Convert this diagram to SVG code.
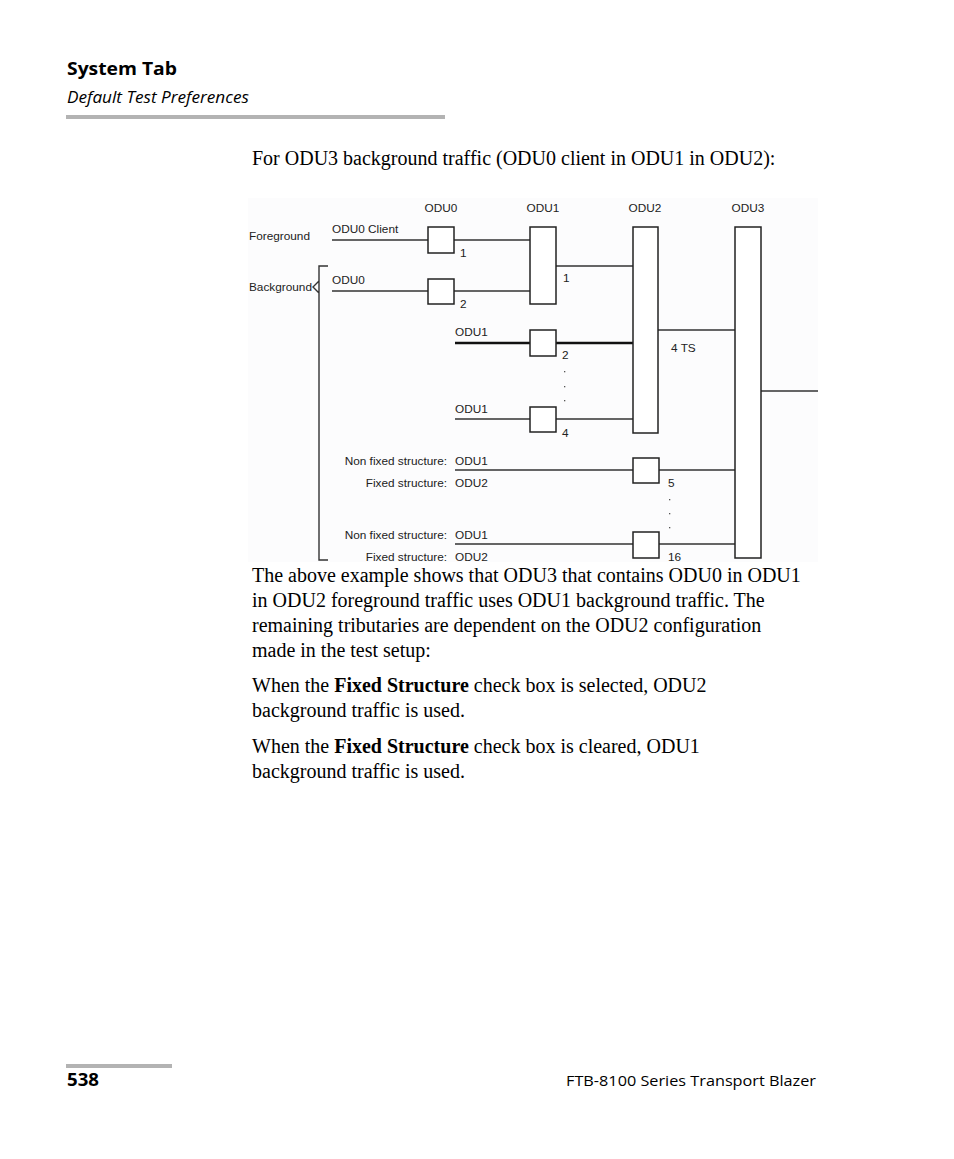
<svg xmlns="http://www.w3.org/2000/svg" width="954" height="1159" viewBox="0 0 954 1159">
<style>
.hdr{font-family:"Open Sans","Noto Sans",sans-serif;fill:#000}
.body{font-family:"Liberation Serif",serif;font-size:20px;fill:#000}
.d{font-family:"Liberation Sans",Arial,sans-serif;font-size:11.8px;fill:#222}
.ln{stroke:#333;stroke-width:1.4;fill:none}
.thk{stroke:#111;stroke-width:2.4;fill:none}
.box{stroke:#222;stroke-width:1.5;fill:#fff}
.dot{fill:#555}
</style>
<rect width="954" height="1159" fill="#fff"/>
<g id="header">
<text class="hdr" x="67" y="75" font-size="18" font-weight="bold" textLength="110" lengthAdjust="spacingAndGlyphs">System Tab</text>
<text class="hdr" x="67" y="103" font-size="16.5" font-style="italic" textLength="182" lengthAdjust="spacingAndGlyphs">Default Test Preferences</text>
<rect x="66" y="115" width="379" height="4" fill="#b3b3b3"/>
</g>
<text class="body" x="252" y="165">For ODU3 background traffic (ODU0 client in ODU1 in ODU2):</text>
<rect x="248" y="198" width="570" height="364" fill="#fcfcfd"/>
<g id="labels">
<text class="d" x="441" y="212" text-anchor="middle">ODU0</text>
<text class="d" x="543" y="212" text-anchor="middle">ODU1</text>
<text class="d" x="645" y="212" text-anchor="middle">ODU2</text>
<text class="d" x="748" y="212" text-anchor="middle">ODU3</text>
<text class="d" x="249" y="240">Foreground</text>
<text class="d" x="249" y="291">Background</text>
<text class="d" x="332" y="233">ODU0 Client</text>
<text class="d" x="332" y="284">ODU0</text>
<text class="d" x="455" y="336">ODU1</text>
<text class="d" x="455" y="413">ODU1</text>
<text class="d" x="447" y="465" text-anchor="end">Non fixed structure:</text>
<text class="d" x="455" y="465">ODU1</text>
<text class="d" x="447" y="487" text-anchor="end">Fixed structure:</text>
<text class="d" x="455" y="487">ODU2</text>
<text class="d" x="447" y="539" text-anchor="end">Non fixed structure:</text>
<text class="d" x="455" y="539">ODU1</text>
<text class="d" x="447" y="561" text-anchor="end">Fixed structure:</text>
<text class="d" x="455" y="561">ODU2</text>
<text class="d" x="460" y="257">1</text>
<text class="d" x="460" y="308">2</text>
<text class="d" x="563" y="282">1</text>
<text class="d" x="562" y="359">2</text>
<text class="d" x="562" y="437">4</text>
<text class="d" x="671" y="352">4 TS</text>
<text class="d" x="668" y="487">5</text>
<text class="d" x="668" y="561">16</text>
</g>
<g id="connectors">
<path class="ln" d="M332 240H428M454 240H530"/>
<path class="ln" d="M332 291H428M454 291H530"/>
<path class="ln" d="M556 266H633"/>
<path class="thk" d="M455 343H530M556 343H633"/>
<path class="ln" d="M455 419H530M556 419H633"/>
<path class="ln" d="M455 470H633M659 470H735"/>
<path class="ln" d="M455 544H633M659 544H735"/>
<path class="ln" d="M658 330H735"/>
<path class="ln" d="M761 391H818"/>
<path class="ln" d="M328 266H319V560H328M319 281L313 287L319 293"/>
</g>
<g id="dots">
<rect class="dot" x="564" y="371" width="1.3" height="1.3"/>
<rect class="dot" x="564" y="386" width="1.3" height="1.3"/>
<rect class="dot" x="564" y="400" width="1.3" height="1.3"/>
<rect class="dot" x="669" y="499" width="1.3" height="1.3"/>
<rect class="dot" x="669" y="513" width="1.3" height="1.3"/>
<rect class="dot" x="669" y="527" width="1.3" height="1.3"/>
</g>
<g id="odu0-a"><rect class="box" x="428" y="227" width="26" height="26"/></g>
<g id="odu0-b"><rect class="box" x="428" y="279" width="26" height="25"/></g>
<g id="odu1-main"><rect class="box" x="530" y="227" width="26" height="77"/></g>
<g id="odu1-2"><rect class="box" x="530" y="330" width="26" height="26"/></g>
<g id="odu1-4"><rect class="box" x="530" y="407" width="26" height="25"/></g>
<g id="odu2-main"><rect class="box" x="633" y="227" width="25" height="206"/></g>
<g id="odu2-5"><rect class="box" x="633" y="458" width="26" height="25"/></g>
<g id="odu2-16"><rect class="box" x="633" y="532" width="26" height="26"/></g>
<g id="odu3-main"><rect class="box" x="735" y="227" width="26" height="331"/></g>
<g id="body">
<text class="body" x="252" y="582">The above example shows that ODU3 that contains ODU0 in ODU1</text>
<text class="body" x="252" y="607">in ODU2 foreground traffic uses ODU1 background traffic. The</text>
<text class="body" x="252" y="632">remaining tributaries are dependent on the ODU2 configuration</text>
<text class="body" x="252" y="657">made in the test setup:</text>
<text class="body" x="252" y="692">When the <tspan font-weight="bold">Fixed Structure</tspan> check box is selected, ODU2</text>
<text class="body" x="252" y="717">background traffic is used.</text>
<text class="body" x="252" y="753">When the <tspan font-weight="bold">Fixed Structure</tspan> check box is cleared, ODU1</text>
<text class="body" x="252" y="778">background traffic is used.</text>
</g>
<g id="footer">
<rect x="66" y="1064" width="106" height="4" fill="#b3b3b3"/>
<text class="hdr" x="67" y="1086" font-size="17" font-weight="bold" textLength="32" lengthAdjust="spacingAndGlyphs">538</text>
<text class="hdr" x="566" y="1086" font-size="15" textLength="250" lengthAdjust="spacingAndGlyphs">FTB-8100 Series Transport Blazer</text>
</g>
</svg>
